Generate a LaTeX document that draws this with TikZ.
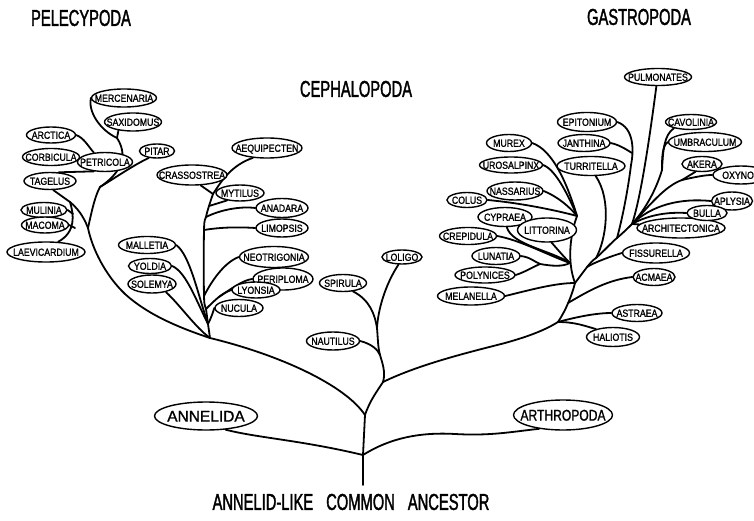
\documentclass[tikz,border=0pt]{standalone}
\usepackage{fontspec}
\setmainfont{Liberation Sans}
\newfontfamily\lblf[FakeStretch=0.85,FakeBold=1.2]{Liberation Sans}
\newfontfamily\bigaf[FakeBold=1.2]{Liberation Sans}
\newfontfamily\bigf[FakeStretch=0.78,FakeBold=1.2]{Liberation Sans}
\newfontfamily\ttlf[FakeStretch=0.64,FakeBold=1.5]{Liberation Sans}
\usetikzlibrary{shapes.geometric}
\pgfdeclarelayer{bg}
\pgfsetlayers{bg,main}
\newcommand\taxon[5]{\node[tx,minimum width=#4pt,minimum height=#5pt] (#1) at (#2) {\smash{\makebox[0pt]{\raisebox{-3.8pt}{#3}}}};}
\begin{document}
\begin{tikzpicture}[x=1pt,y=-1pt,
  br/.style={line width=1.8pt,line cap=round,line join=round},
  tx/.style={ellipse,draw,line width=1.4pt,fill=white,inner sep=0pt,font=\lblf\fontsize{10.3}{11}\selectfont},
  ttl/.style={inner sep=0pt,font=\ttlf\fontsize{23}{24}\selectfont}]
\useasboundingbox (0,0) rectangle (754,521);

% titles
\node[ttl] (pel) at (81,18) {PELECYPODA};
\node[ttl] (gas) at (639,17) {GASTROPODA};
\node[ttl] (cep) at (356,89) {CEPHALOPODA};
\node[ttl] (anc) at (351,502) {ANNELID-LIKE\hspace{13pt}COMMON\hspace{13pt}ANCESTOR};

% pelecypoda
\taxon{mercenaria}{124,98}{MERCENARIA}{65}{18}
\taxon{saxidomus}{133,122}{SAXIDOMUS}{57}{18}
\taxon{arctica}{51,135}{ARCTICA}{49}{16}
\taxon{corbicula}{51,157}{CORBICULA}{57}{17}
\taxon{petricola}{105,162}{PETRICOLA}{55}{19}
\taxon{pitar}{157,151}{PITAR}{35}{14}
\taxon{tagelus}{50,181}{TAGELUS}{52}{17}
\taxon{mulinia}{44,210}{MULINIA}{46}{15}
\taxon{macoma}{45,225}{MACOMA}{47}{16}
\taxon{laevicardium}{46,252}{LAEVICARDIUM}{78}{20}
\taxon{crassostrea}{192,175}{CRASSOSTREA}{70}{20}
\taxon{aequipecten}{267,148}{AEQUIPECTEN}{70}{20}
\taxon{mytilus}{240,193}{MYTILUS}{48}{16}
\taxon{anadara}{282,208}{ANADARA}{52}{19}
\taxon{limopsis}{282,228}{LIMOPSIS}{52}{18}
\taxon{malletia}{147,245}{MALLETIA}{57}{17}
\taxon{yoldia}{150,266}{YOLDIA}{43}{15}
\taxon{solemya}{152,284}{SOLEMYA}{48}{18}
\taxon{neotrigonia}{274,257}{NEOTRIGONIA}{69}{21}
\taxon{periploma}{283,279}{PERIPLOMA}{60}{22}
\taxon{lyonsia}{256,290}{LYONSIA}{48}{16}
\taxon{nucula}{239,308}{NUCULA}{48}{17}

% cephalopoda
\taxon{loligo}{402,257}{LOLIGO}{40}{14}
\taxon{spirula}{343,283}{SPIRULA}{47}{17}
\taxon{nautilus}{333,341}{NAUTILUS}{53}{18}

% gastropoda
\taxon{pulmonates}{658,77}{PULMONATES}{67}{17}
\taxon{epitonium}{587,122}{EPITONIUM}{59}{19}
\taxon{murex}{509,143}{MUREX}{45}{17}
\taxon{janthina}{584,143}{JANTHINA}{52}{17}
\taxon{urosalpinx}{511,165}{UROSALPINX}{63}{16}
\taxon{turritella}{591,166}{TURRITELLA}{68}{19}
\taxon{nassarius}{515,191}{NASSARIUS}{56}{18}
\taxon{colus}{467,200}{COLUS}{40}{15}
\taxon{cypraea}{505,217}{CYPRAEA}{54}{19}
\taxon{littorina}{547,230}{LITTORINA}{59}{24}
\taxon{crepidula}{468,236}{CREPIDULA}{57}{17}
\taxon{lunatia}{496,256}{LUNATIA}{48}{17}
\taxon{polynices}{485,275}{POLYNICES}{60}{16}
\taxon{melanella}{471,296}{MELANELLA}{67}{18}
\taxon{cavolinia}{691,122}{CAVOLINIA}{51}{15}
\taxon{umbraculum}{705,142}{UMBRACULUM}{73}{19}
\taxon{akera}{702,164}{AKERA}{40}{15}
\taxon{oxynoe}{741,175}{OXYNOE}{56}{18}
\taxon{aplysia}{732,201}{APLYSIA}{41}{18}
\taxon{architectonica}{681,228}{ARCHITECTONICA}{88}{20}
\taxon{bulla}{707,213}{BULLA}{40}{15}
\taxon{fissurella}{656,253}{FISSURELLA}{67}{20}
\taxon{acmaea}{654,277}{ACMAEA}{42}{17}
\taxon{astraea}{637,313}{ASTRAEA}{50}{17}
\taxon{haliotis}{613,337}{HALIOTIS}{53}{19}

% outgroups
\node[tx,minimum width=103pt,minimum height=28pt] (annelida) at (206,416)
  {\smash{\makebox[0pt]{\raisebox{-5.6pt}{\bigaf\fontsize{15.5}{16}\selectfont ANNELIDA}}}};
\node[tx,minimum width=99pt,minimum height=30pt] (arthropoda) at (563,415)
  {\smash{\makebox[0pt]{\raisebox{-5.6pt}{\bigf\fontsize{15.5}{16}\selectfont ARTHROPODA}}}};

% junctions
\coordinate (R0) at (363,485);
\coordinate (LJ) at (363,455);
\coordinate (UJ) at (365,415);
\coordinate (MJ) at (383,382);
\coordinate (C2) at (380,355);
\coordinate (C1) at (377,328);
\coordinate (G0) at (558,322);
\coordinate (Ga) at (568,303);
\coordinate (G1) at (575,283);
\coordinate (Gfi) at (587,267);
\coordinate (Gf) at (596,258);
\coordinate (Gt) at (617,238);
\coordinate (G4) at (632,224);
\coordinate (Ge) at (631,165);
\coordinate (Gj) at (632,153);
\coordinate (Gak) at (682,180);
\coordinate (Gca) at (662,170);
\coordinate (G2) at (577,216);
\coordinate (Gc) at (570,263);
\coordinate (Glp) at (540,264);
\coordinate (P0) at (210,338);
\coordinate (Pn) at (208,324);
\coordinate (Pl) at (206,309);
\coordinate (Lp) at (219,297);
\coordinate (Pne) at (204,296);
\coordinate (Plim) at (204,230);
\coordinate (Pana) at (206,217);
\coordinate (Pmy) at (209,206);
\coordinate (Pcr) at (213,194);
\coordinate (Hp) at (88,228);
\coordinate (H1) at (70,202);
\coordinate (Hm1) at (73,214);
\coordinate (Hm2) at (75,228);
\coordinate (Jp) at (100,187);
\coordinate (Js) at (117,138);

\begin{pgfonlayer}{bg}
\fill[white] (0,0) rectangle (754,521);
% root
\draw[br] (R0) -- (LJ) -- (UJ);
\draw[br] (annelida.-35) .. controls (258,438) and (300,440) .. (LJ);
\draw[br] (LJ) .. controls (390,438) and (420,432) .. (455,434) .. controls (490,436) and (510,432) .. (arthropoda.-150);
\draw[br] (UJ) .. controls (345,385) and (280,355) .. (P0);
\draw[br] (UJ) .. controls (370,400) and (378,390) .. (MJ);
% cephalopods
\draw[br] (MJ) .. controls (386,372) and (382,362) .. (C2) .. controls (378,348) and (378,340) .. (C1);
\draw[br] (nautilus.east) .. controls (372,344) and (378,350) .. (C2);
\draw[br] (spirula.-40) .. controls (370,300) and (375,315) .. (C1);
\draw[br] (loligo.-115) .. controls (385,285) and (378,310) .. (C1);
% gastropods
\draw[br] (MJ) .. controls (420,364) and (470,352) .. (505,343) .. controls (530,336) and (545,330) .. (G0);
\draw[br] (G0) .. controls (580,316) and (598,313) .. (astraea.west);
\draw[br] (G0) .. controls (575,322) and (585,326) .. (haliotis.155);
\draw[br] (G0) .. controls (566,310) and (572,295) .. (G1);
\draw[br] (acmaea.west) .. controls (608,280) and (590,290) .. (Ga);
\draw[br] (melanella.east) .. controls (530,290) and (555,283) .. (G1);
\draw[br] (G1) .. controls (585,270) and (590,262) .. (Gf) .. controls (605,250) and (612,242) .. (Gt) .. controls (624,232) and (628,228) .. (G4);
\draw[br] (fissurella.west) .. controls (612,256) and (595,262) .. (Gfi);
\draw[br] (turritella.-65) .. controls (612,200) and (606,240) .. (Gf);
\draw[br] (epitonium.east) .. controls (634,128) and (634,150) .. (Ge) .. controls (628,190) and (622,220) .. (Gt);
\draw[br] (janthina.east) .. controls (620,145) and (627,150) .. (Gj);
\draw[br] (pulmonates.-100) .. controls (648,150) and (640,200) .. (G4);
\draw[br] (G4) -- (architectonica.175);
\draw[br] (G4) .. controls (650,214) and (670,212) .. (bulla.west);
\draw[br] (G4) .. controls (652,205) and (680,198) .. (aplysia.west);
\draw[br] (G4) .. controls (650,205) and (665,186) .. (Gak);
\draw[br] (akera.-130) -- (Gak);
\draw[br] (Gak) .. controls (695,177) and (705,175) .. (oxynoe.west);
\draw[br] (cavolinia.-160) .. controls (664,135) and (663,150) .. (Gca);
\draw[br] (umbraculum.west) .. controls (662,146) and (662,158) .. (Gca);
\draw[br] (Gca) .. controls (656,190) and (645,210) .. (G4);
\draw[br] (G1) .. controls (567,262) and (570,235) .. (G2);
\draw[br] (murex.east) .. controls (552,150) and (566,180) .. (G2);
\draw[br] (urosalpinx.east) .. controls (556,170) and (568,195) .. (G2);
\draw[br] (nassarius.east) .. controls (556,196) and (568,205) .. (G2);
\draw[br] (colus.east) .. controls (520,203) and (555,210) .. (G2);
\draw[br] (cypraea.-80) .. controls (512,245) and (550,250) .. (Gc);
\draw[br] (littorina.-70) .. controls (558,250) and (565,258) .. (Gc);
\draw[br] (crepidula.east) .. controls (520,240) and (550,256) .. (Gc);
\draw[br] (lunatia.east) .. controls (530,257) and (535,262) .. (Glp);
\draw[br] (polynices.east) .. controls (525,272) and (533,267) .. (Glp);
\draw[br] (Glp) .. controls (552,266) and (562,267) .. (Gc);
% pelecypods
\draw[br] plot[smooth,tension=0.6] coordinates {(P0) (Pn) (Pl) (Pne) (Plim) (Pana) (Pmy) (Pcr)};
\draw[br] (Pcr) -- (crassostrea.-50);
\draw[br] (Pcr) .. controls (222,180) and (232,165) .. (aequipecten.-145);
\draw[br] (Pmy) -- (mytilus.-150);
\draw[br] (Pana) .. controls (220,210) and (240,206) .. (anadara.west);
\draw[br] (Plim) .. controls (222,227) and (240,227) .. (limopsis.west);
\draw[br] (Pne) .. controls (212,280) and (225,262) .. (neotrigonia.west);
\draw[br] (Pl) .. controls (215,300) and (222,293) .. (lyonsia.west);
\draw[br] (Lp) .. controls (235,286) and (244,280) .. (periploma.west);
\draw[br] (Pn) .. controls (212,316) and (213,312) .. (nucula.west);
\draw[br] (malletia.east) .. controls (190,255) and (198,295) .. (Pn);
\draw[br] (yoldia.east) .. controls (186,272) and (196,300) .. (Pn);
\draw[br] (solemya.-30) .. controls (180,305) and (195,327) .. (P0);
\draw[br] (P0) .. controls (180,328) and (148,315) .. (125,294) .. controls (105,275) and (92,248) .. (Hp) .. controls (83,215) and (77,208) .. (H1);
\draw[br] (tagelus.-70) -- (H1);
\draw[br] (H1) .. controls (74,215) and (76,232) .. (laevicardium.40);
\draw[br] (mulinia.east) -- (Hm1);
\draw[br] (macoma.east) -- (Hm2);
\draw[br] (Hp) .. controls (92,210) and (95,196) .. (Jp);
\draw[br] (Jp) .. controls (115,178) and (132,166) .. (pitar.-140);
\draw[br] (Jp) .. controls (118,175) and (130,158) .. (Js);
\draw[br] (mercenaria.west) .. controls (88,112) and (100,130) .. (Js);
\draw[br] (saxidomus.-150) -- (Js);
\draw[br] (arctica.east) .. controls (84,138) and (88,146) .. (petricola.140);
\draw[br] (tagelus.45) -- (petricola.-140);
\end{pgfonlayer}
\end{tikzpicture}
\end{document}
